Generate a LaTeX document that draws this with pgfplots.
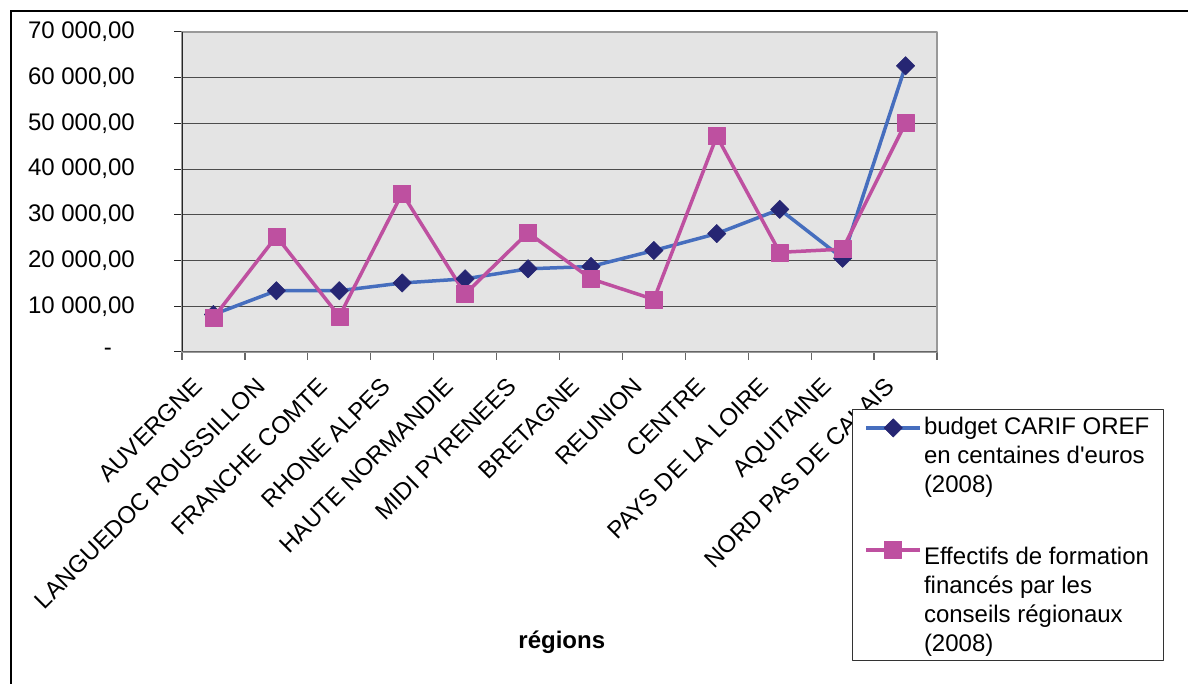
\documentclass[border=0pt]{standalone}
\usepackage{fontspec}
\setmainfont{Liberation Sans}
\newfontfamily\lsans{Liberation Sans}
\usepackage{pgfplots}
\pgfplotsset{compat=1.18}
\definecolor{bline}{RGB}{70,110,190}
\definecolor{bmark}{RGB}{38,38,115}
\definecolor{pinkc}{RGB}{190,80,160}
\definecolor{bg}{RGB}{228,228,228}
\newcommand{\fs}{\lsans\fontsize{24}{29}\selectfont}
\tikzset{
  serA/.style={color=bline, line width=3.5pt, mark=square*, mark size=6.5pt,
    mark options={rotate=45, fill=bmark, draw=bmark, line width=0.5pt}},
  serB/.style={color=pinkc, line width=3.5pt, mark=square*, mark size=8.5pt,
    mark options={fill=pinkc, draw=pinkc, line width=0.5pt}},
}
\begin{document}
\begin{tikzpicture}
\path[use as bounding box] (0pt,0pt) rectangle (1188pt,684pt);
\draw[line width=2pt] (10.5pt,0pt) -- (10.5pt,672.5pt) -- (1188pt,672.5pt);
\begin{axis}[
  at={(182pt,332pt)}, anchor=south west,
  scale only axis, width=755pt, height=320pt,
  xmin=-0.5, xmax=11.5, ymin=0, ymax=70000,
  scaled y ticks=false,
  axis background/.style={fill=bg},
  axis line style={draw=black!40, line width=1.2pt},
  xtick={0,...,11},
  xticklabels={AUVERGNE,LANGUEDOC ROUSSILLON,FRANCHE COMTE,RHONE ALPES,HAUTE NORMANDIE,MIDI PYRENEES,BRETAGNE,REUNION,CENTRE,PAYS DE LA LOIRE,AQUITAINE,NORD PAS DE CALAIS},
  minor xtick={-0.5,0.5,...,11.5},
  major x tick style={draw=none},
  minor x tick style={draw=black!60, line width=1.2pt},
  ytick={0,10000,20000,30000,40000,50000,60000,70000},
  yticklabels={{-\hspace{23pt}\mbox{}},{10 000,00},{20 000,00},{30 000,00},{40 000,00},{50 000,00},{60 000,00},{70 000,00}},
  major y tick style={draw=black!85, line width=1pt},
  ymajorgrids, major grid style={draw=black!70, line width=1.2pt},
  tick align=outside, major tick length=8pt, minor tick length=8pt,
  xtick pos=bottom, ytick pos=left,
  yticklabel style={font=\fs, anchor=east, inner sep=0pt, xshift=-39pt},
  xticklabel style={font=\fs, rotate=45, anchor=north east, inner sep=0pt, xshift=-27pt, yshift=4pt},
  xlabel={régions},
  xlabel style={at={(axis description cs:0.503,-0.906)}, anchor=center, font=\lsans\bfseries\fontsize{24}{29}\selectfont},
  legend style={at={(axis description cs:0.8874,-0.178)}, anchor=north west, font=\fs,
    draw=black!80, line width=1pt, fill=white, inner xsep=12pt, inner ysep=6pt,
    row sep=45pt, cells={anchor=base west, align=left}},
  legend cell align=left,
  line join=round,
]
\draw[black!85, line width=1.5pt] (rel axis cs:0,0) -- (rel axis cs:0,1);
\draw[black!60, line width=1.5pt] (rel axis cs:0,0) -- (rel axis cs:1,0);
\addplot[serA,
  legend image code/.code={\draw[serA, mark repeat=2, mark phase=2] plot coordinates {(0pt,28pt) (27pt,28pt) (54pt,28pt)};}]
  coordinates {(0,8200) (1,13400) (2,13400) (3,15100) (4,16000) (5,18200) (6,18700) (7,22200) (8,25900) (9,31200) (10,20500) (11,62600)};
\addlegendentry{budget CARIF OREF\\en centaines d'euros\\(2008)}
\addplot[serB,
  legend image code/.code={\draw[serB, mark repeat=2, mark phase=2] plot coordinates {(0pt,50pt) (27pt,50pt) (54pt,50pt)};}]
  coordinates {(0,7500) (1,25300) (2,7800) (3,34700) (4,12700) (5,26100) (6,16000) (7,11500) (8,47200) (9,21800) (10,22500) (11,50100)};
\addlegendentry{Effectifs de formation\\financés par les\\conseils régionaux\\(2008)}
\end{axis}
\end{tikzpicture}
\end{document}
